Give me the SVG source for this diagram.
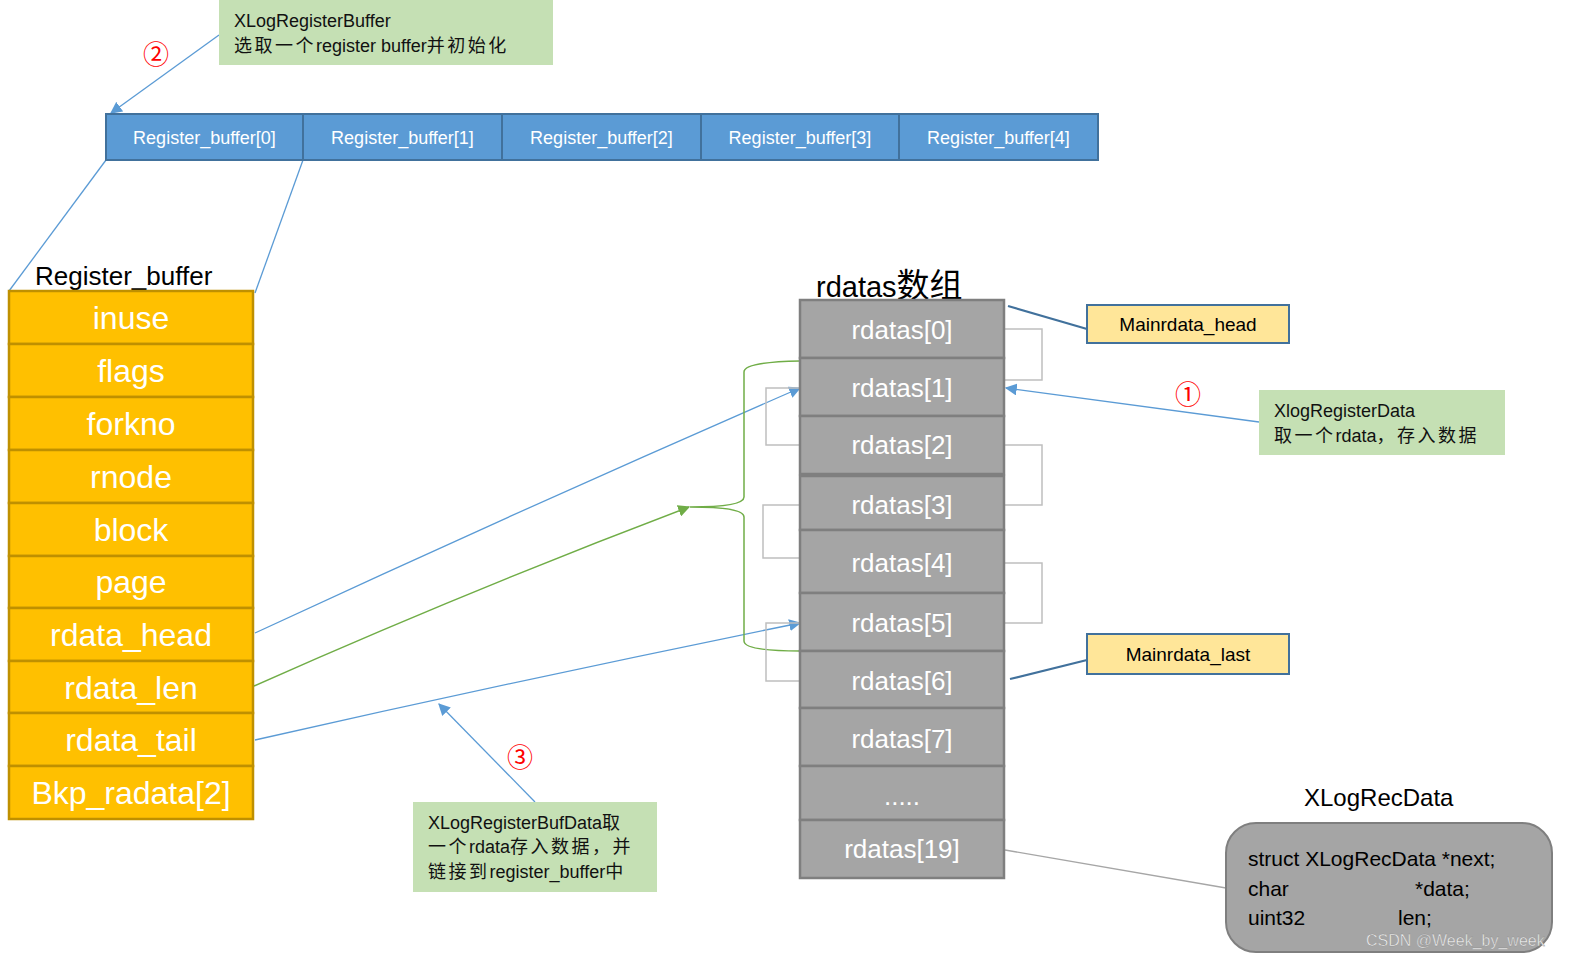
<svg xmlns="http://www.w3.org/2000/svg" width="1569" height="954" viewBox="0 0 1569 954">
<style>
text{font-family:"Liberation Sans","Noto Sans CJK SC",sans-serif}
.bar{fill:#5B9BD5;stroke:#41719C;stroke-width:2}
.bart{fill:#fff;font-size:18px;text-anchor:middle}
.yel{fill:#FFC000;stroke:#BF9000;stroke-width:2.5}
.yelt{fill:#fff;font-size:32px;text-anchor:middle}
.gr{fill:#A5A5A5;stroke:#7F7F7F;stroke-width:2.5}
.grt{fill:#fff;font-size:26px;text-anchor:middle}
.note{fill:#C5E0B4}
.nt{fill:#111;font-size:18px}
.cj{font-family:"Noto Sans CJK SC",sans-serif;letter-spacing:2.5px}
.mb{fill:#FFE699;stroke:#41719C;stroke-width:2}
.mt{fill:#000;font-size:19px;text-anchor:middle}
.circ{fill:#FF0000;font-size:26px;font-family:"Noto Sans CJK SC","DejaVu Sans",sans-serif}
.bl{fill:none;stroke:#5B9BD5;stroke-width:1.3}
.gl{fill:none;stroke:#70AD47;stroke-width:1.5}
.db{fill:none;stroke:#41719C;stroke-width:2.2}
.br{fill:none;stroke:#BFBFBF;stroke-width:1.5}
.title{fill:#000}
</style>
<defs>
<marker id="ab" viewBox="0 0 10 10" refX="9" refY="5" markerWidth="12" markerHeight="12" markerUnits="userSpaceOnUse" orient="auto"><path d="M0,0L10,5L0,10z" fill="#5B9BD5"/></marker>
<marker id="ag" viewBox="0 0 10 10" refX="9" refY="5" markerWidth="12" markerHeight="12" markerUnits="userSpaceOnUse" orient="auto"><path d="M0,0L10,5L0,10z" fill="#70AD47"/></marker>
</defs>

<g id="connectors">
<line class="bl" x1="106" y1="160" x2="9" y2="291"/>
<line class="bl" x1="303" y1="160" x2="255" y2="293"/>
<line class="bl" x1="219" y1="35" x2="111" y2="113" marker-end="url(#ab)"/>
<path class="bl" d="M255,633 Q520,510 800,388" marker-end="url(#ab)"/>
<path class="gl" d="M254,686 Q470,590 689,507" marker-end="url(#ag)"/>
<path class="bl" d="M255,740 Q520,680 800,623" marker-end="url(#ab)"/>
<line class="bl" x1="535" y1="802" x2="439" y2="704" marker-end="url(#ab)"/>
<line class="bl" x1="1259" y1="422" x2="1006" y2="388" marker-end="url(#ab)"/>
<path class="gl" d="M800,361 Q744,362 744,372 L744,497 Q744,507 690,507 Q744,507 744,517 L744,641 Q744,651 800,651"/>
<path class="br" d="M1005,329 H1042 V380 H1005"/>
<path class="br" d="M800,388 H766 V445 H800"/>
<path class="br" d="M1005,445 H1042 V505 H1005"/>
<path class="br" d="M800,505 H763 V558 H800"/>
<path class="br" d="M1005,563 H1042 V623 H1005"/>
<path class="br" d="M800,623 H766 V681 H800"/>
<line class="db" x1="1008" y1="306" x2="1087" y2="329"/>
<line class="db" x1="1010" y1="679" x2="1087" y2="660"/>
<line x1="1005" y1="850" x2="1226" y2="888" stroke="#A6A6A6" stroke-width="1.3"/>
</g>

<g id="note2">
<rect class="note" x="219" y="0" width="334" height="65"/>
<text class="nt" x="234" y="27">XLogRegisterBuffer</text>
<text class="nt" x="234" y="52"><tspan class="cj">选取一个</tspan>register buffer<tspan class="cj">并初始化</tspan></text>
<text class="circ" x="143" y="64">②</text>
</g>

<g id="register-buffers">
<rect class="bar" x="106" y="114" width="197" height="46"/>
<rect class="bar" x="303" y="114" width="199" height="46"/>
<rect class="bar" x="502" y="114" width="199" height="46"/>
<rect class="bar" x="701" y="114" width="198" height="46"/>
<rect class="bar" x="899" y="114" width="199" height="46"/>
<text class="bart" x="204.5" y="144">Register_buffer[0]</text>
<text class="bart" x="402.5" y="144">Register_buffer[1]</text>
<text class="bart" x="601.5" y="144">Register_buffer[2]</text>
<text class="bart" x="800" y="144">Register_buffer[3]</text>
<text class="bart" x="998.5" y="144">Register_buffer[4]</text>
</g>

<g id="register-buffer-struct">
<text class="title" x="35" y="285" font-size="26">Register_buffer</text>
<rect class="yel" x="9" y="291" width="244" height="53"/>
<rect class="yel" x="9" y="344" width="244" height="53"/>
<rect class="yel" x="9" y="397" width="244" height="53"/>
<rect class="yel" x="9" y="450" width="244" height="53"/>
<rect class="yel" x="9" y="503" width="244" height="53"/>
<rect class="yel" x="9" y="556" width="244" height="52"/>
<rect class="yel" x="9" y="608" width="244" height="53"/>
<rect class="yel" x="9" y="661" width="244" height="52"/>
<rect class="yel" x="9" y="713" width="244" height="53"/>
<rect class="yel" x="9" y="766" width="244" height="53"/>
<text class="yelt" x="131" y="329">inuse</text>
<text class="yelt" x="131" y="382">flags</text>
<text class="yelt" x="131" y="435">forkno</text>
<text class="yelt" x="131" y="488">rnode</text>
<text class="yelt" x="131" y="541">block</text>
<text class="yelt" x="131" y="593">page</text>
<text class="yelt" x="131" y="646">rdata_head</text>
<text class="yelt" x="131" y="699">rdata_len</text>
<text class="yelt" x="131" y="751">rdata_tail</text>
<text class="yelt" x="131" y="804">Bkp_radata[2]</text>
</g>

<g id="rdatas">
<text class="title" x="816" y="297" font-size="29">rdatas<tspan font-family="Noto Sans CJK SC, sans-serif" font-size="33">数组</tspan></text>
<rect class="gr" x="800" y="300" width="204" height="58"/>
<rect class="gr" x="800" y="358" width="204" height="58"/>
<rect class="gr" x="800" y="416" width="204" height="58"/>
<rect class="gr" x="800" y="476" width="204" height="54"/>
<rect class="gr" x="800" y="530" width="204" height="63"/>
<rect class="gr" x="800" y="593" width="204" height="58"/>
<rect class="gr" x="800" y="651" width="204" height="57"/>
<rect class="gr" x="800" y="708" width="204" height="58"/>
<rect class="gr" x="800" y="766" width="204" height="54"/>
<rect class="gr" x="800" y="820" width="204" height="58"/>
<line x1="800" y1="475" x2="1004" y2="475" stroke="#7F7F7F" stroke-width="4"/>
<text class="grt" x="902" y="339">rdatas[0]</text>
<text class="grt" x="902" y="397">rdatas[1]</text>
<text class="grt" x="902" y="454">rdatas[2]</text>
<text class="grt" x="902" y="514">rdatas[3]</text>
<text class="grt" x="902" y="572">rdatas[4]</text>
<text class="grt" x="902" y="632">rdatas[5]</text>
<text class="grt" x="902" y="690">rdatas[6]</text>
<text class="grt" x="902" y="748">rdatas[7]</text>
<text class="grt" x="902" y="805">.....</text>
<text class="grt" x="902" y="858">rdatas[19]</text>
</g>

<g id="mainrdata-head">
<rect class="mb" x="1087" y="305" width="202" height="38"/>
<text class="mt" x="1188" y="331">Mainrdata_head</text>
</g>

<g id="mainrdata-last">
<rect class="mb" x="1087" y="634" width="202" height="40"/>
<text class="mt" x="1188" y="661">Mainrdata_last</text>
</g>

<g id="note1">
<rect class="note" x="1259" y="390" width="246" height="65"/>
<text class="nt" x="1274" y="417">XlogRegisterData</text>
<text class="nt" x="1274" y="442"><tspan class="cj">取一个</tspan>rdata<tspan class="cj">，存入数据</tspan></text>
<text class="circ" x="1175" y="404">①</text>
</g>

<g id="note3">
<rect class="note" x="413" y="802" width="244" height="90"/>
<text class="nt" x="428" y="829">XLogRegisterBufData<tspan class="cj">取</tspan></text>
<text class="nt" x="428" y="853"><tspan class="cj">一个</tspan>rdata<tspan class="cj">存入数据，并</tspan></text>
<text class="nt" x="428" y="878"><tspan class="cj">链接到</tspan>register_buffer<tspan class="cj">中</tspan></text>
<text class="circ" x="507" y="767">③</text>
</g>

<g id="xlogrecdata">
<text class="title" x="1304" y="806" font-size="24">XLogRecData</text>
<rect x="1226" y="823" width="326" height="129" rx="30" ry="30" fill="#A5A5A5" stroke="#7F7F7F" stroke-width="2"/>
<text x="1248" y="866" font-size="21" fill="#000">struct XLogRecData *next;</text>
<text x="1248" y="896" font-size="21" fill="#000">char</text>
<text x="1415" y="896" font-size="21" fill="#000">*data;</text>
<text x="1248" y="925" font-size="21" fill="#000">uint32</text>
<text x="1398" y="925" font-size="21" fill="#000">len;</text>
<text x="1366" y="946" font-size="16" fill="#F2F2F2" stroke="#8C8C8C" stroke-width="0.4">CSDN @Week_by_week</text>
</g>
</svg>
